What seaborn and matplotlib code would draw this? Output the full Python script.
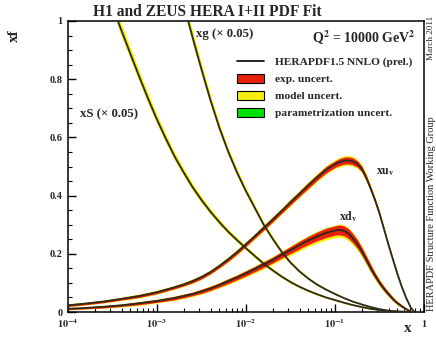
import numpy as np
import pandas as pd
import matplotlib
matplotlib.use("Agg")
import matplotlib.pyplot as plt
import seaborn as sns
from matplotlib.lines import Line2D
from matplotlib.patches import Patch
from matplotlib.ticker import FixedLocator, MultipleLocator, NullFormatter

# ---------------- data ----------------
# xS (x 0.05)
xs_x = [3.63e-4, 3.98e-4, 5.01e-4, 6.31e-4, 7.94e-4, 1e-3, 1.26e-3, 1.58e-3, 2.0e-3, 2.51e-3,
        3.16e-3, 3.98e-3, 5.01e-3, 6.31e-3, 7.94e-3, 0.01, 0.0126, 0.0158, 0.02, 0.0251,
        0.0316, 0.0398, 0.0501, 0.0631, 0.0794, 0.1, 0.126, 0.158, 0.2, 0.251,
        0.316, 0.398, 0.501, 0.631, 0.794]
xs_y = [1.0, 0.968, 0.888, 0.809, 0.733, 0.661, 0.595, 0.534, 0.479, 0.429,
        0.385, 0.345, 0.309, 0.276, 0.247, 0.219, 0.192, 0.166, 0.143, 0.122,
        0.103, 0.087, 0.073, 0.061, 0.050, 0.041, 0.032, 0.024, 0.017, 0.011,
        0.007, 0.004, 0.002, 0.0005, 0.0]
xs_band = [0.022, 0.021, 0.020, 0.019, 0.018, 0.016, 0.015, 0.014, 0.013, 0.012,
           0.011, 0.010, 0.009, 0.008, 0.008, 0.007, 0.007, 0.006, 0.006, 0.005,
           0.005, 0.004, 0.004, 0.004, 0.003, 0.003, 0.003, 0.002, 0.002, 0.002,
           0.001, 0.001, 0.001, 0.0, 0.0]

# xg (x 0.05)
xg_x = [2.24e-3, 2.51e-3, 3.16e-3, 3.98e-3, 5.01e-3, 6.31e-3, 7.94e-3, 0.01, 0.0126, 0.0158,
        0.02, 0.0251, 0.0316, 0.0398, 0.0501, 0.0631, 0.0794, 0.1, 0.126, 0.158,
        0.2, 0.251, 0.316, 0.398, 0.501, 0.631]
xg_y = [1.0, 0.944, 0.834, 0.729, 0.634, 0.551, 0.479, 0.415, 0.357, 0.300,
        0.251, 0.207, 0.170, 0.140, 0.115, 0.094, 0.077, 0.062, 0.048, 0.036,
        0.026, 0.017, 0.010, 0.004, 0.001, 0.0]
xg_band = [0.022, 0.021, 0.019, 0.017, 0.015, 0.013, 0.012, 0.011, 0.010, 0.009,
           0.008, 0.007, 0.006, 0.005, 0.004, 0.004, 0.003, 0.003, 0.002, 0.002,
           0.002, 0.001, 0.001, 0.0, 0.0, 0.0]

# xu_v
uv_x = [1e-4, 1.58e-4, 2.51e-4, 3.98e-4, 6.31e-4, 1e-3,
        1.58e-3, 2e-3, 2.51e-3, 3.16e-3, 3.98e-3, 5.01e-3, 6.31e-3, 7.94e-3, 0.01,
        0.0126, 0.0158, 0.02, 0.0251, 0.0316, 0.0398, 0.0501, 0.0631, 0.0794, 0.1,
        0.112, 0.126, 0.141, 0.158, 0.178, 0.2, 0.224, 0.251, 0.282, 0.316,
        0.355, 0.398, 0.447, 0.501, 0.562, 0.631, 0.708, 0.759, 0.776]
uv_y = [0.023, 0.029, 0.036, 0.045, 0.055, 0.068,
        0.085, 0.095, 0.106, 0.120, 0.137, 0.158, 0.181, 0.206, 0.233,
        0.261, 0.289, 0.318, 0.347, 0.377, 0.406, 0.435, 0.463, 0.489, 0.508,
        0.515, 0.520, 0.521, 0.518, 0.509, 0.492, 0.462, 0.425, 0.384, 0.339,
        0.285, 0.232, 0.181, 0.132, 0.087, 0.048, 0.016, 0.004, 0.0]
uv_exp = [0.004, 0.004, 0.004, 0.004, 0.005, 0.005,
          0.005, 0.005, 0.006, 0.006, 0.006, 0.006, 0.007, 0.007, 0.007,
          0.007, 0.008, 0.008, 0.008, 0.009, 0.009, 0.010, 0.010, 0.011, 0.011,
          0.012, 0.012, 0.012, 0.012, 0.011, 0.010, 0.009, 0.008, 0.007, 0.006,
          0.006, 0.005, 0.005, 0.004, 0.003, 0.003, 0.002, 0.001, 0.0]
uv_mod = [0.001, 0.001, 0.001, 0.002, 0.002, 0.002,
          0.002, 0.002, 0.002, 0.002, 0.002, 0.002, 0.002, 0.003, 0.003,
          0.003, 0.003, 0.003, 0.003, 0.003, 0.003, 0.004, 0.004, 0.004, 0.004,
          0.005, 0.005, 0.005, 0.005, 0.004, 0.004, 0.004, 0.003, 0.003, 0.003,
          0.002, 0.002, 0.002, 0.002, 0.002, 0.001, 0.001, 0.0, 0.0]

# xd_v
dv_x = [1e-4, 1.58e-4, 2.51e-4, 3.98e-4, 6.31e-4, 1e-3,
        1.58e-3, 2.51e-3, 3.16e-3, 3.98e-3, 5.01e-3, 6.31e-3, 7.94e-3, 0.01,
        0.0126, 0.0158, 0.02, 0.0251, 0.0316, 0.0398, 0.0501, 0.0631, 0.0794, 0.1,
        0.112, 0.126, 0.141, 0.158, 0.178, 0.2, 0.224, 0.251, 0.282, 0.316,
        0.355, 0.398, 0.447, 0.501, 0.562, 0.631, 0.708, 0.724]
dv_y = [0.011, 0.014, 0.018, 0.023, 0.030, 0.038,
        0.048, 0.062, 0.071, 0.081, 0.093, 0.106, 0.119, 0.133,
        0.148, 0.163, 0.179, 0.196, 0.213, 0.230, 0.246, 0.260, 0.272, 0.280,
        0.282, 0.279, 0.270, 0.254, 0.234, 0.209, 0.181, 0.152, 0.125, 0.101,
        0.080, 0.062, 0.045, 0.031, 0.020, 0.010, 0.002, 0.0]
dv_exp = [0.003, 0.003, 0.004, 0.004, 0.005, 0.005,
          0.006, 0.006, 0.007, 0.007, 0.007, 0.008, 0.008, 0.009,
          0.009, 0.010, 0.010, 0.011, 0.012, 0.013, 0.014, 0.015, 0.016, 0.016,
          0.017, 0.017, 0.017, 0.016, 0.015, 0.014, 0.013, 0.012, 0.010, 0.009,
          0.008, 0.007, 0.006, 0.005, 0.004, 0.003, 0.001, 0.0]
dv_mod_lo = [0.001, 0.001, 0.001, 0.002, 0.002, 0.002,
             0.002, 0.003, 0.003, 0.003, 0.003, 0.004, 0.004, 0.004,
             0.005, 0.005, 0.005, 0.006, 0.006, 0.007, 0.007, 0.008, 0.008, 0.008,
             0.008, 0.008, 0.008, 0.007, 0.007, 0.006, 0.005, 0.005, 0.004, 0.004,
             0.003, 0.003, 0.002, 0.002, 0.001, 0.001, 0.0, 0.0]
dv_mod_hi = [0.001, 0.001, 0.001, 0.001, 0.001, 0.001,
             0.001, 0.001, 0.001, 0.002, 0.002, 0.002, 0.002, 0.002,
             0.002, 0.002, 0.002, 0.002, 0.003, 0.003, 0.003, 0.003, 0.003, 0.003,
             0.003, 0.003, 0.003, 0.003, 0.003, 0.002, 0.002, 0.002, 0.002, 0.002,
             0.001, 0.001, 0.001, 0.001, 0.001, 0.0, 0.0, 0.0]

x_ticks = [1e-4, 1e-3, 1e-2, 1e-1, 1]
x_tick_labels = [r"$\mathbf{10^{-4}}$", r"$\mathbf{10^{-3}}$", r"$\mathbf{10^{-2}}$",
                 r"$\mathbf{10^{-1}}$", r"$\mathbf{1}$"]
y_ticks = [0, 0.2, 0.4, 0.6, 0.8, 1]
y_tick_labels = ["0", "0.2", "0.4", "0.6", "0.8", "1"]

legend_labels = ["HERAPDF1.5 NNLO (prel.)", "exp. uncert.", "model uncert.",
                 "parametrization uncert."]

# ---------------- style ----------------
sns.set_style("ticks")
plt.rcParams['font.family'] = ['Liberation Serif', 'DejaVu Serif']
plt.rcParams['mathtext.fontset'] = 'stix'
plt.rcParams['font.weight'] = 'bold'

RED = '#e8200c'
YEL = '#f6ee10'
GRN = '#00e000'
LINE = '#2b2a1c'

W, H = 436, 338
fig = plt.figure(figsize=(W / 100, H / 100), dpi=100)
ax = fig.add_axes([68 / W, 26 / H, 356 / W, 291 / H])

def arr(v):
    return np.asarray(v, dtype=float)

# bands: model (yellow) underneath, exp (red) on top
for xx, yy, bb in [(xs_x, xs_y, xs_band), (xg_x, xg_y, xg_band)]:
    xx, yy, bb = arr(xx), arr(yy), arr(bb)
    ax.fill_between(xx, yy - bb, yy + bb, color=YEL, lw=0, zorder=1)

ux, uy, ue, um = arr(uv_x), arr(uv_y), arr(uv_exp), arr(uv_mod)
ax.fill_between(ux, uy - ue - um, uy + ue + um, color=YEL, lw=0, zorder=1)
ax.fill_between(ux, uy - ue, uy + ue, color=RED, lw=0, zorder=2)

dx, dy, de = arr(dv_x), arr(dv_y), arr(dv_exp)
dl, dh = arr(dv_mod_lo), arr(dv_mod_hi)
ax.fill_between(dx, dy - de - dl, dy + de + dh, color=YEL, lw=0, zorder=1)
ax.fill_between(dx, dy - de, dy + de, color=RED, lw=0, zorder=2)

# central curves through seaborn
df = pd.concat([
    pd.DataFrame({'x': xs_x, 'xf': xs_y, 'pdf': 'xS'}),
    pd.DataFrame({'x': xg_x, 'xf': xg_y, 'pdf': 'xg'}),
    pd.DataFrame({'x': uv_x, 'xf': uv_y, 'pdf': 'xuv'}),
    pd.DataFrame({'x': dv_x, 'xf': dv_y, 'pdf': 'xdv'}),
], ignore_index=True)
sns.lineplot(data=df, x='x', y='xf', hue='pdf', units='pdf', estimator=None,
             palette={k: LINE for k in ['xS', 'xg', 'xuv', 'xdv']},
             legend=False, lw=1.3, ax=ax, zorder=3)

ax.set_xscale('log')
ax.set_xlim(1e-4, 1)
ax.set_ylim(0, 1)
ax.set_xlabel('')
ax.set_ylabel('')

ax.xaxis.set_major_locator(FixedLocator(x_ticks))
ax.set_xticklabels(x_tick_labels)
minor = [m * d for d in [1e-4, 1e-3, 1e-2, 1e-1] for m in range(2, 10)]
ax.xaxis.set_minor_locator(FixedLocator(minor))
ax.xaxis.set_minor_formatter(NullFormatter())
ax.yaxis.set_major_locator(FixedLocator(y_ticks))
ax.set_yticklabels(y_tick_labels)
ax.yaxis.set_minor_locator(MultipleLocator(0.05))

ax.tick_params(which='both', direction='in', top=False, right=False, color='black')
ax.tick_params(which='major', length=6, width=1.0, labelsize=7.5, pad=4)
ax.tick_params(which='minor', length=3, width=0.8)
for lab in ax.get_xticklabels() + ax.get_yticklabels():
    lab.set_fontweight('bold')
for s in ax.spines.values():
    s.set_linewidth(1.1)
    s.set_color('black')
    s.set_visible(True)

# legend
handles = [Line2D([0], [0], color='black', lw=1.2),
           Patch(facecolor=RED, edgecolor='black', lw=0.8),
           Patch(facecolor=YEL, edgecolor='black', lw=0.8),
           Patch(facecolor=GRN, edgecolor='black', lw=0.8)]
leg = ax.legend(handles, legend_labels, loc='upper left',
                bbox_to_anchor=(0.475, 0.878), frameon=False,
                prop={'family': 'Liberation Serif', 'weight': 'bold', 'size': 8.2},
                handlelength=2.4, handleheight=0.9, labelspacing=0.55,
                handletextpad=0.95, borderaxespad=0, borderpad=0)

# texts
def fx(px):
    return px / W

def fy(py):
    return 1 - py / H

fig.text(fx(207), fy(12), "H1 and ZEUS HERA I+II PDF Fit", ha='center', va='center',
         fontsize=11.2, fontweight='bold')
fig.text(fx(364), fy(38), r"Q$^{\mathbf{2}}$ = 10000 GeV$^{\mathbf{2}}$", ha='center',
         va='center', fontsize=10, fontweight='bold')
fig.text(fx(196), fy(34), "xg (× 0.05)", ha='left', va='center', fontsize=9.2,
         fontweight='bold')
fig.text(fx(80), fy(114), "xS (× 0.05)", ha='left', va='center', fontsize=9.2,
         fontweight='bold')
fig.text(fx(376), fy(172), r"xu$_{\mathbf{v}}$", ha='left', va='center', fontsize=8.5,
         fontweight='bold')
fig.text(fx(339), fy(217), r"xd$_{\mathbf{v}}$", ha='left', va='center', fontsize=8.5,
         fontweight='bold')
fig.text(fx(14), fy(36), "xf", rotation=90, ha='center', va='center', fontsize=11,
         fontweight='bold')
fig.text(fx(408), fy(329), "x", ha='center', va='center', fontsize=11, fontweight='bold')
fig.text(fx(431), fy(214), "HERAPDF Structure Function Working Group", rotation=90,
         ha='center', va='center', fontsize=7.5, fontweight='normal')
fig.text(fx(431), fy(38), "March 2011", rotation=90, ha='center', va='center',
         fontsize=6.6, fontweight='normal')

fig.savefig('out.png', dpi=100, facecolor='white')
